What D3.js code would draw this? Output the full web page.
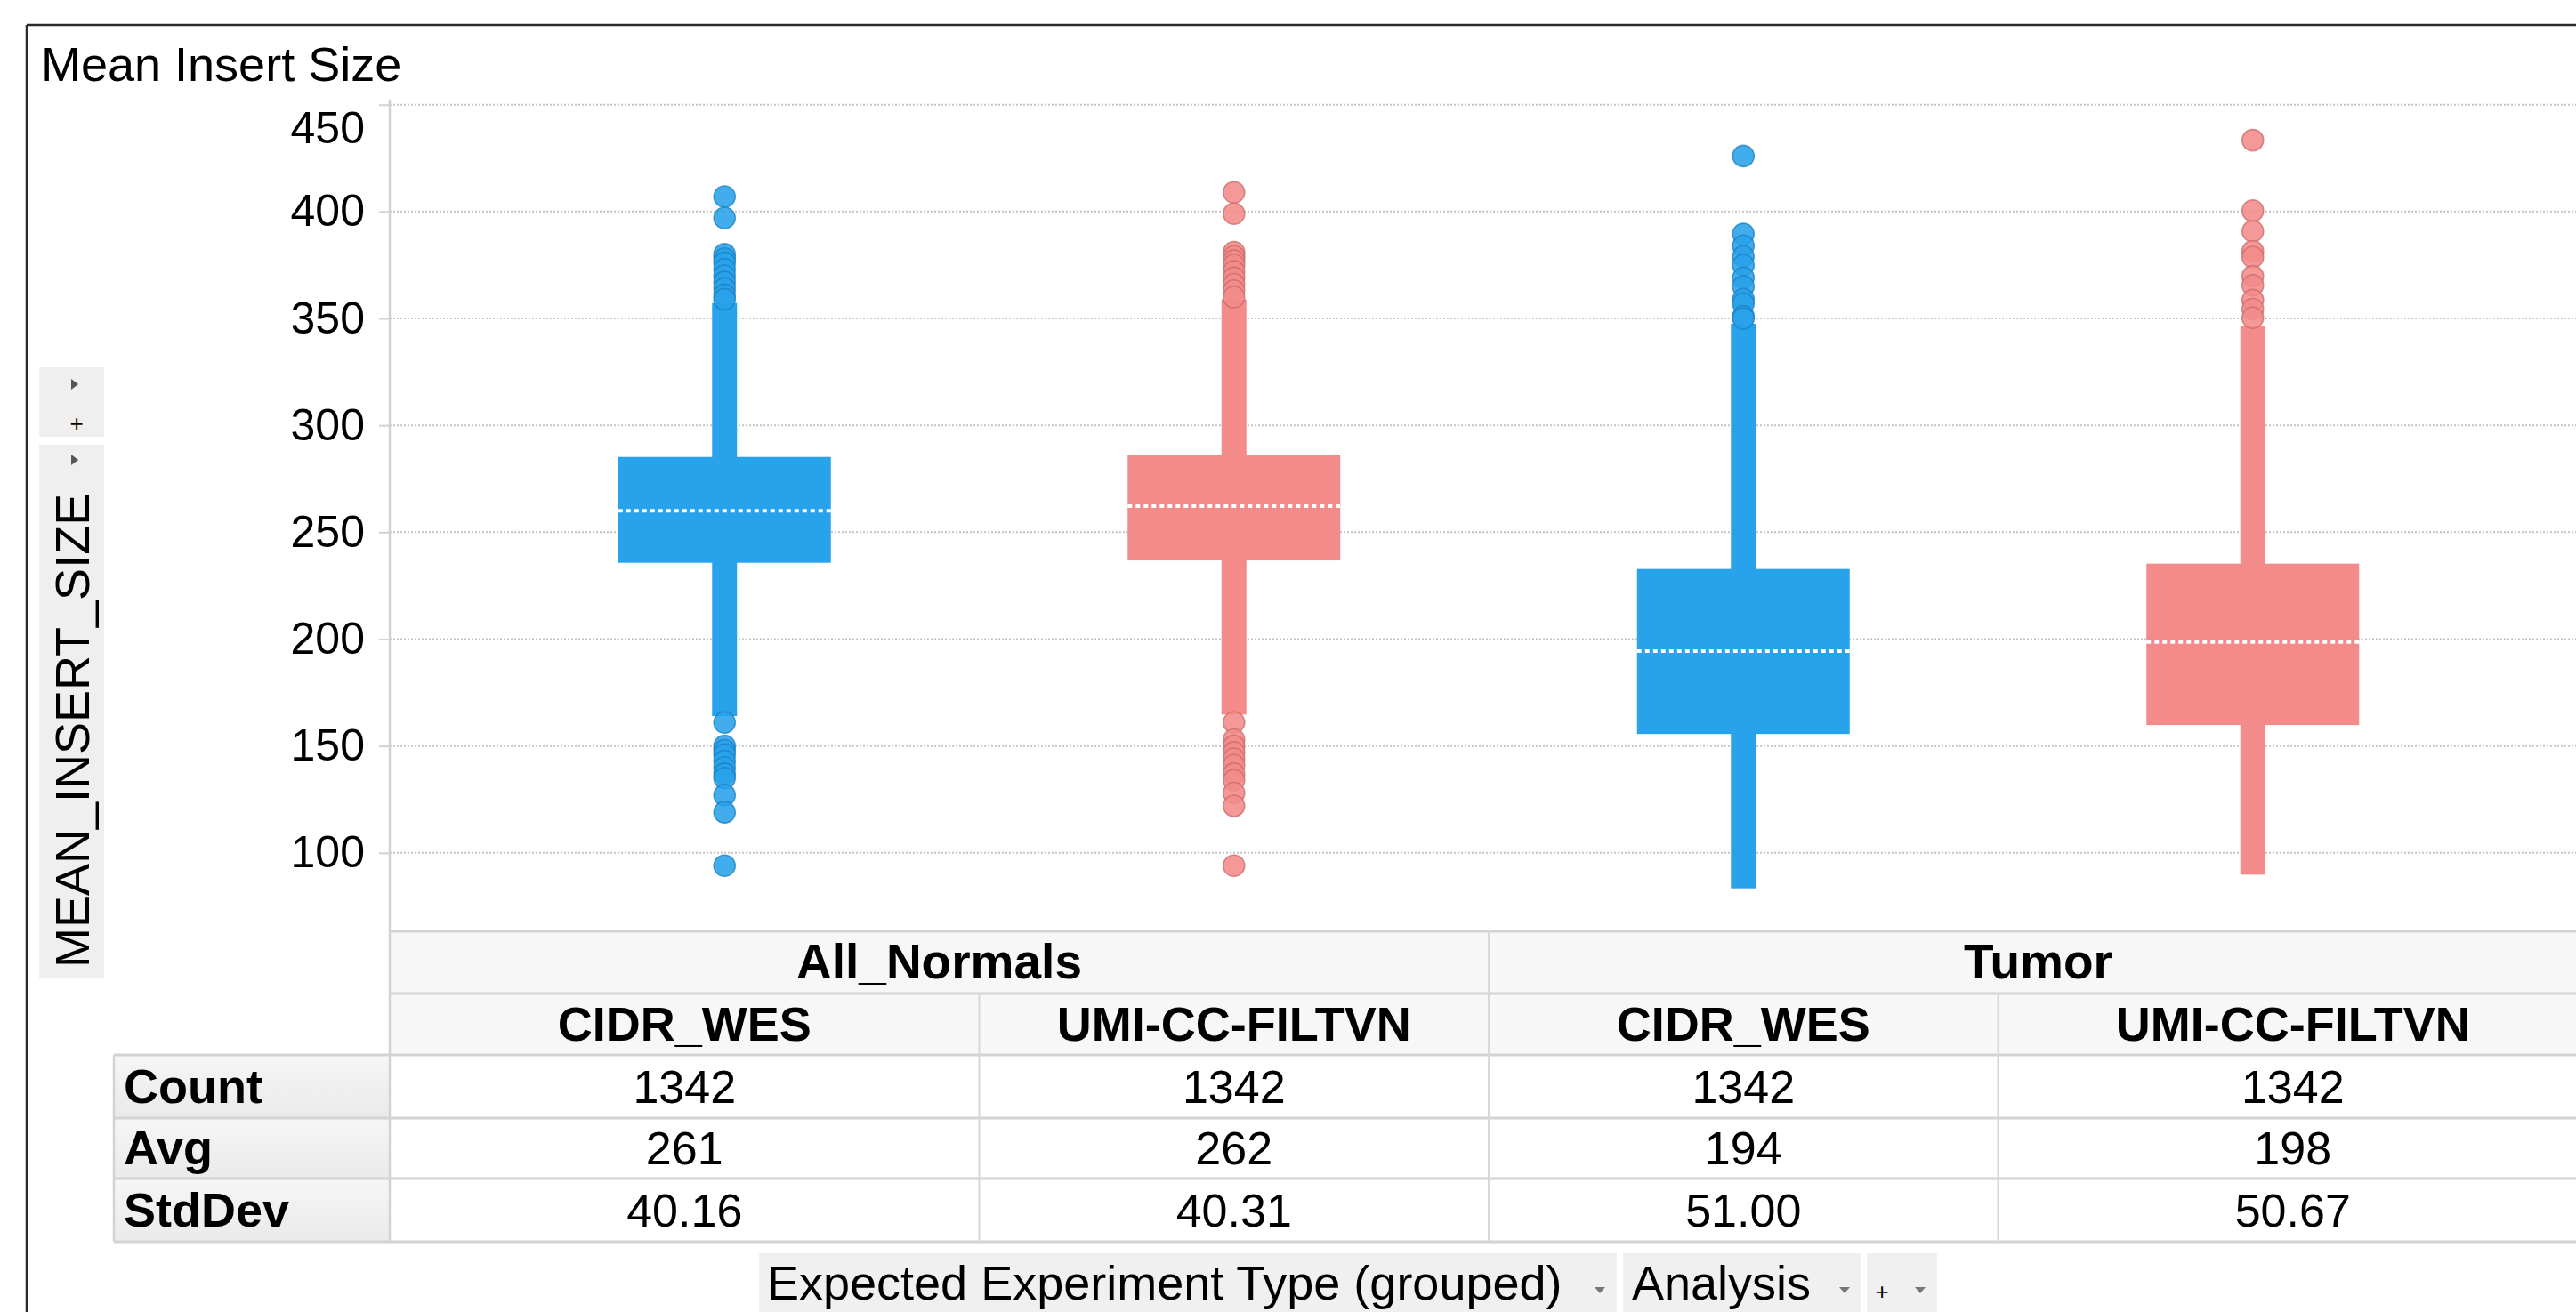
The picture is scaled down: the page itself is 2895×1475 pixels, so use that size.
<!DOCTYPE html>
<html><head><meta charset="utf-8">
<script src="https://cdn.jsdelivr.net/npm/d3@7"></script>
<style>
body{margin:0;background:#fff}
svg{display:block}
text{font-family:"Liberation Sans",Arial,Helvetica,sans-serif;fill:#000}
</style>
</head><body>
<svg id="chart" width="2895" height="1475"></svg>
<script>
// ---------------- data ----------------
const groups = ["All_Normals", "Tumor"];
const categories = ["CIDR_WES", "UMI-CC-FILTVN", "CIDR_WES", "UMI-CC-FILTVN"];
const categoryGroup = ["All_Normals", "All_Normals", "Tumor", "Tumor"];

const whiskerLow  = [164.0, 164.7, 83.4, 89.8];
const q1          = [235.7, 236.8, 155.6, 159.8];
const median      = [260.0, 262.2, 194.4, 198.6];
const q3          = [285.2, 286.0, 232.8, 235.3];
const whiskerHigh = [357.2, 358.9, 347.5, 346.5];

const outliersNormalsCIDR = [407, 397, 380, 378, 376, 373, 370, 367, 364, 361, 359,
                             161, 150, 148, 146, 143, 140, 137, 135, 127, 119, 94];
const outliersNormalsUMI  = [409, 399, 381, 379, 377, 375, 372, 369, 366, 363, 360,
                             161, 153, 150, 147, 144, 141, 137, 134, 128, 122, 94];
const outliersTumorCIDR   = [426, 389.5, 384, 379, 375, 369, 365, 359, 357, 351, 350];
const outliersTumorUMI    = [433.4, 400.4, 390.8, 381.4, 378.7, 369.7, 365.5, 358.6, 354.4, 350.3];
const outliers = [outliersNormalsCIDR, outliersNormalsUMI, outliersTumorCIDR, outliersTumorUMI];

const statRows   = ["Count", "Avg", "StdDev"];
const countRow   = [1342, 1342, 1342, 1342];
const avgRow     = [261, 262, 194, 198];
const stdDevRow  = [40.16, 40.31, 51.00, 50.67];

const yTicks = [100, 150, 200, 250, 300, 350, 400, 450];
const chartTitle = "Mean Insert Size";
const yTitle = "MEAN_INSERT_SIZE";
const xSelectors = ["Expected Experiment Type (grouped)", "Analysis", "+"];

// ---------------- layout ----------------
const FONT = 54;
const plotLeft = 438, plotRight = 2908, plotTop = 117.7, plotBottom = 1047;
const colour = d3.scaleOrdinal().domain(["CIDR_WES", "UMI-CC-FILTVN"]).range(["#28a2ea", "#f28b8a"]);
const strokeCol = d3.scaleOrdinal().domain(["CIDR_WES", "UMI-CC-FILTVN"]).range(["#1b7fc0", "#c96a69"]);

const svg = d3.select("#chart");
const x = d3.scaleBand().domain(d3.range(categories.length)).range([528, 2818]).padding(0);
const y = d3.scaleLinear().domain([63.3, 450]).range([plotBottom, plotTop]);

// outer frame
svg.append("line").attr("x1", 30).attr("x2", 2895).attr("y1", 28).attr("y2", 28)
  .attr("stroke", "#2a2a2a").attr("stroke-width", 2.5);
svg.append("line").attr("x1", 30).attr("x2", 30).attr("y1", 28).attr("y2", 1475)
  .attr("stroke", "#2a2a2a").attr("stroke-width", 2.5);

// title
svg.append("text").attr("x", 46).attr("y", 91).attr("font-size", FONT).text(chartTitle);

// gridlines
svg.append("g").selectAll("line").data(yTicks).join("line")
  .attr("x1", plotLeft).attr("x2", 2895)
  .attr("y1", d => y(d)).attr("y2", d => y(d))
  .attr("stroke", "#c4c4c4").attr("stroke-width", 2).attr("stroke-dasharray", "2,2");

// y axis
const yAxis = svg.append("g").attr("transform", `translate(${plotLeft},0)`)
  .call(d3.axisLeft(y).tickValues(yTicks).tickSize(12).tickSizeOuter(0).tickPadding(16));
yAxis.select(".domain").attr("stroke", "#d2d2d2").attr("stroke-width", 2.5)
  .attr("d", `M0,${plotTop - 6}V${plotBottom}`);
yAxis.selectAll(".tick line").attr("stroke", "#d2d2d2").attr("stroke-width", 2);
yAxis.selectAll(".tick text").attr("font-size", 50).attr("fill", "#000")
  .attr("font-family", '"Liberation Sans",Arial,sans-serif')
  .attr("y", d => Math.max(0, 144 - y(d)));

// y title panels
svg.append("rect").attr("x", 44).attr("y", 413).attr("width", 73).attr("height", 78).attr("fill", "#efefef");
svg.append("rect").attr("x", 44).attr("y", 500).attr("width", 73).attr("height", 600).attr("fill", "#efefef");
const rightTri = (cx, cy) => `M${cx - 3},${cy - 6}L${cx + 5},${cy}L${cx - 3},${cy + 6}Z`;
svg.append("path").attr("d", rightTri(83, 432)).attr("fill", "#555");
svg.append("path").attr("d", rightTri(83, 517)).attr("fill", "#555");
svg.append("text").attr("x", 86).attr("y", 476).attr("font-size", 26)
  .attr("text-anchor", "middle").attr("dominant-baseline", "central").text("+");
svg.append("text").attr("transform", "translate(100,1088) rotate(-90)")
  .attr("font-size", FONT).text(yTitle);

// boxes
const bw = 239, ww = 28;
const boxes = svg.append("g").selectAll("g").data(categories.map((c, i) => i)).join("g");
boxes.append("rect")
  .attr("x", i => x(i) + x.bandwidth() / 2 - ww / 2).attr("width", ww)
  .attr("y", i => y(whiskerHigh[i])).attr("height", i => y(whiskerLow[i]) - y(whiskerHigh[i]))
  .attr("fill", i => colour(categories[i]));
boxes.append("rect")
  .attr("x", i => x(i) + x.bandwidth() / 2 - bw / 2).attr("width", bw)
  .attr("y", i => y(q3[i])).attr("height", i => y(q1[i]) - y(q3[i]))
  .attr("fill", i => colour(categories[i]));
boxes.append("line")
  .attr("x1", i => x(i) + x.bandwidth() / 2 - bw / 2).attr("x2", i => x(i) + x.bandwidth() / 2 + bw / 2)
  .attr("y1", i => y(median[i])).attr("y2", i => y(median[i]))
  .attr("stroke", "#fff").attr("stroke-width", 4).attr("stroke-dasharray", "5,4");
boxes.each(function(i) {
  d3.select(this).selectAll("circle").data(outliers[i]).join("circle")
    .attr("cx", x(i) + x.bandwidth() / 2).attr("cy", d => y(d)).attr("r", 12)
    .attr("fill", colour(categories[i])).attr("fill-opacity", 0.88)
    .attr("stroke", strokeCol(categories[i])).attr("stroke-width", 1.6).attr("stroke-opacity", 0.75);
});

// ---------------- table ----------------
const rowY = [1047, 1117, 1186, 1257, 1325, 1396];
const colEdges = [plotLeft, x(1), x(2), x(3), plotRight];
const tbl = svg.append("g");
tbl.append("rect").attr("x", plotLeft).attr("y", rowY[0]).attr("width", 2895 - plotLeft)
  .attr("height", rowY[2] - rowY[0]).attr("fill", "#f7f7f7");
const grad = svg.append("defs").append("linearGradient").attr("id", "rh")
  .attr("x1", 0).attr("x2", 0).attr("y1", 0).attr("y2", 1);
grad.append("stop").attr("offset", "0%").attr("stop-color", "#f6f6f6");
grad.append("stop").attr("offset", "100%").attr("stop-color", "#eaeaea");
statRows.forEach((r, k) => {
  tbl.append("rect").attr("x", 128).attr("y", rowY[k + 2]).attr("width", plotLeft - 128)
    .attr("height", rowY[k + 3] - rowY[k + 2]).attr("fill", "url(#rh)");
});
rowY.forEach((yy, k) => {
  tbl.append("line").attr("x1", k >= 2 ? 128 : plotLeft).attr("x2", 2895)
    .attr("y1", yy).attr("y2", yy).attr("stroke", "#d3d3d3").attr("stroke-width", 3);
});
tbl.append("line").attr("x1", 128).attr("x2", 128).attr("y1", rowY[2]).attr("y2", rowY[5])
  .attr("stroke", "#d3d3d3").attr("stroke-width", 2.5);
tbl.append("line").attr("x1", plotLeft).attr("x2", plotLeft).attr("y1", rowY[0]).attr("y2", rowY[5])
  .attr("stroke", "#d3d3d3").attr("stroke-width", 2.5);
[1, 2, 3].forEach(i => {
  tbl.append("line").attr("x1", colEdges[i]).attr("x2", colEdges[i])
    .attr("y1", i === 2 ? rowY[0] : rowY[1]).attr("y2", rowY[5])
    .attr("stroke", "#d8d8d8").attr("stroke-width", 2);
});
const mid = (a, b) => (a + b) / 2;
groups.forEach(g => {
  const idx = categoryGroup.map((cg, i) => cg === g ? i : -1).filter(i => i >= 0);
  const x0 = colEdges[idx[0]], x1 = colEdges[idx[idx.length - 1] + 1];
  tbl.append("text").attr("x", mid(x0, x1)).attr("y", mid(rowY[0], rowY[1]) + 18)
    .attr("text-anchor", "middle").attr("font-size", 55).attr("font-weight", "bold").text(g);
});
categories.forEach((c, i) => {
  tbl.append("text").attr("x", mid(colEdges[i], colEdges[i + 1])).attr("y", mid(rowY[1], rowY[2]) + 18)
    .attr("text-anchor", "middle").attr("font-size", FONT).attr("font-weight", "bold").text(c);
});
const rowVals = [countRow.map(d3.format("d")), avgRow.map(d3.format("d")), stdDevRow.map(d3.format(".2f"))];
statRows.forEach((r, k) => {
  const cy = mid(rowY[k + 2], rowY[k + 3]) + 18;
  tbl.append("text").attr("x", 139).attr("y", cy).attr("font-size", FONT).attr("font-weight", "bold").text(r);
  rowVals[k].forEach((v, i) => {
    tbl.append("text").attr("x", mid(colEdges[i], colEdges[i + 1])).attr("y", cy)
      .attr("text-anchor", "middle").attr("font-size", 52).text(v);
  });
});

// ---------------- axis selectors ----------------
const panels = [[853, 1817], [1824, 2092], [2098, 2177]];
const downTri = (cx, cy) => `M${cx - 6},${cy - 3}L${cx + 6},${cy - 3}L${cx},${cy + 4}Z`;
panels.forEach((p, k) => {
  svg.append("rect").attr("x", p[0]).attr("y", 1409).attr("width", p[1] - p[0]).attr("height", 80).attr("fill", "#f0f0f0");
  svg.append("path").attr("d", downTri(p[1] - 19, 1450)).attr("fill", "#777");
});
svg.append("text").attr("x", 862).attr("y", 1461).attr("font-size", 54).text(xSelectors[0]);
svg.append("text").attr("x", 1834).attr("y", 1461).attr("font-size", 54).text(xSelectors[1]);
svg.append("text").attr("x", 2115).attr("y", 1452).attr("font-size", 26)
  .attr("text-anchor", "middle").attr("dominant-baseline", "central").text(xSelectors[2]);
</script>
</body></html>
